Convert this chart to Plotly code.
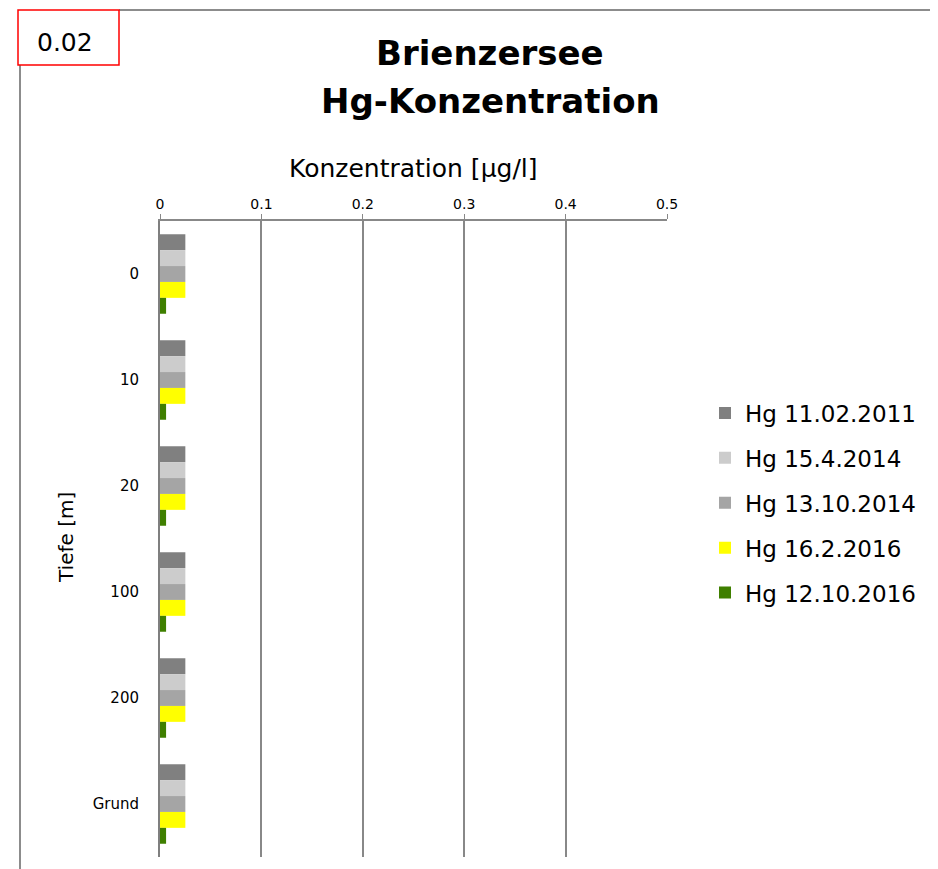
import plotly.graph_objects as go

categories = ["0", "10", "20", "100", "200", "Grund"]
series_names = ["Hg 11.02.2011", "Hg 15.4.2014", "Hg 13.10.2014", "Hg 16.2.2016", "Hg 12.10.2016"]
hg_2011_02 = [0.025, 0.025, 0.025, 0.025, 0.025, 0.025]
hg_2014_04 = [0.025, 0.025, 0.025, 0.025, 0.025, 0.025]
hg_2014_10 = [0.025, 0.025, 0.025, 0.025, 0.025, 0.025]
hg_2016_02 = [0.025, 0.025, 0.025, 0.025, 0.025, 0.025]
hg_2016_10 = [0.006, 0.006, 0.006, 0.006, 0.006, 0.006]
colors = ["#808080", "#cccccc", "#a5a5a5", "#ffff00", "#3f7f00"]
x_ticks = [0, 0.1, 0.2, 0.3, 0.4, 0.5]
x_tick_labels = ["0", "0.1", "0.2", "0.3", "0.4", "0.5"]

FONT = "DejaVu Sans"
OFF = 8  # page body margin
W, H = 930, 861
# plot area in screen pixels: x 160..667, y 221..857
SX0, SX1, SY0, SY1 = 160, 667, 221, 857
L, T = SX0 - OFF, SY0 - OFF
R, B = W - (SX1 - OFF), H - (SY1 - OFF)
PW, PH = SX1 - SX0, SY1 - SY0


def px(x):
    return (x - SX0) / PW


def py(y):
    return (SY1 - y) / PH


fig = go.Figure()
for name, vals, col in zip(series_names,
                           [hg_2011_02, hg_2014_04, hg_2014_10, hg_2016_02, hg_2016_10],
                           colors):
    fig.add_trace(go.Bar(y=categories, x=vals, name=name, orientation="h", legendgroup=name,
                         marker=dict(color=col, line=dict(width=0))))

fig.update_layout(
    width=W, height=H,
    barmode="group", bargap=0.25, bargroupgap=0,
    plot_bgcolor="white", paper_bgcolor="white",
    margin=dict(l=L, r=R, t=T, b=B, autoexpand=False),
    font=dict(family=FONT, color="black"),
    showlegend=True,
    legend=dict(x=px(705), y=py(503), xanchor="left", yanchor="middle", traceorder="grouped",
                font=dict(size=23, family=FONT, color="black"), itemwidth=30,
                tracegroupgap=12, bgcolor="rgba(0,0,0,0)"),
)
fig.update_xaxes(side="top", range=[0, 0.5], tickvals=x_ticks, ticktext=x_tick_labels,
                 showgrid=True, gridcolor="#888888", gridwidth=1.5,
                 ticks="outside", ticklen=5, tickcolor="#888888",
                 showline=True, linecolor="#888888", linewidth=1.5,
                 tickfont=dict(size=14), zeroline=False, automargin=False)
fig.update_yaxes(autorange="reversed", showgrid=False, showline=True,
                 linecolor="#7f7f7f", linewidth=2, ticks="", ticklabelstandoff=16,
                 tickfont=dict(size=15), automargin=False)

# titles as annotations
fig.add_annotation(xref="paper", yref="paper", x=px(490), y=py(53), text="<b>Brienzersee</b>",
                   showarrow=False, font=dict(size=34, family=FONT), xanchor="center", yanchor="middle")
fig.add_annotation(xref="paper", yref="paper", x=px(490), y=py(101), text="<b>Hg-Konzentration</b>",
                   showarrow=False, font=dict(size=34, family=FONT), xanchor="center", yanchor="middle")
fig.add_annotation(xref="paper", yref="paper", x=px(413), y=py(168), text="Konzentration [μg/l]",
                   showarrow=False, font=dict(size=25, family=FONT), xanchor="center", yanchor="middle")
fig.add_annotation(xref="paper", yref="paper", x=px(66), y=py(538), text="Tiefe [m]", textangle=-90,
                   showarrow=False, font=dict(size=20, family=FONT), xanchor="center", yanchor="middle")

# outer chart border (partial) and red annotation box
fig.add_shape(type="line", xref="paper", yref="paper", x0=px(119), x1=px(945), y0=py(10), y1=py(10),
              line=dict(color="#8c8c8c", width=2))
fig.add_shape(type="line", xref="paper", yref="paper", x0=px(20), x1=px(20), y0=py(65), y1=py(875),
              line=dict(color="#8c8c8c", width=2))
fig.add_shape(type="rect", xref="paper", yref="paper", x0=px(18), x1=px(119), y0=py(10), y1=py(65),
              line=dict(color="#ff0000", width=1.5), fillcolor="white")
fig.add_annotation(xref="paper", yref="paper", x=px(65), y=py(43), text="0.02", showarrow=False,
                   font=dict(size=25, family=FONT, color="black"), xanchor="center", yanchor="middle")

fig.write_html("out.html")
